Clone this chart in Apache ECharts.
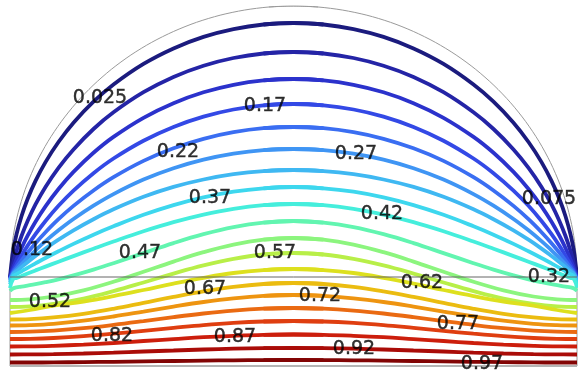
<!DOCTYPE html>
<html>
<head>
<meta charset="utf-8">
<script src="https://cdn.jsdelivr.net/npm/echarts@6/dist/echarts.min.js"></script>
<style>html,body{margin:0;padding:0;background:#fff;}#c{width:578px;height:376px;}</style>
</head>
<body>
<div id="c"></div>
<script>
// Domain units: x 0..567 (left wall to right wall), y 0..360 (rect bottom to arc top); base line at y=89.
// Each contour is stored as a half-line from just past the centre to the left wall;
// the right half is the same data drawn on an inverse x axis (the geometry is symmetric).
const xArc  = [313.5, 283.5, 253.5, 223.5, 193.5, 163.5, 133.5, 103.5, 83.5, 63.5, 48.5, 35.5, 25.5, 17.5, 11.5, 6.5, 3, 0];
const xBell = [313.5, 283.5, 253.5, 223.5, 193.5, 163.5, 133.5, 103.5, 73.5, 43.5, 20, 0];

const y025 = [341.5, 343, 341.5, 336.9, 329.1, 317.6, 302.1, 281.5, 264.3, 243.3, 224, 203.9, 185.1, 166.8, 149.8, 131.7, 114.5, 88.8];
const y075 = [312.5, 314, 312.5, 308, 300.3, 289.1, 273.8, 253.7, 237, 216.6, 198.2, 179.1, 161.6, 144.8, 130, 115.1, 102.4, 88.5];
const y125 = [285.6, 287, 285.6, 281.2, 273.7, 262.8, 248.2, 229.1, 213.2, 194.1, 177, 159.7, 144.3, 130.1, 118, 106.5, 97.5, 88];
const y175 = [260.7, 262, 260.7, 256.5, 249.4, 239.1, 225.3, 207.5, 192.8, 175.4, 160.2, 145, 131.8, 120.1, 110.4, 101.6, 95, 87.4];
const y225 = [237.8, 239, 237.8, 233.8, 227.2, 217.7, 205.1, 188.8, 175.5, 160.1, 146.8, 133.8, 122.8, 113.2, 105.4, 98.6, 93.5, 86.6];
const y275 = [215.9, 217, 215.9, 212.3, 206.3, 197.7, 186.4, 171.9, 160.3, 147, 135.7, 124.9, 115.7, 107.9, 101.7, 96.4, 92.4, 85.5];
const y325 = [194.9, 196, 194.9, 191.8, 186.5, 179.1, 169.2, 156.7, 146.8, 135.7, 126.3, 117.4, 110, 103.8, 98.9, 94.7, 91.7, 83.8];
const y375 = [177.7, 179, 177.7, 174.3, 168.6, 160.9, 151.2, 139.7, 131.3, 122.1, 114.7, 108, 102.6, 98.2, 94.7, 91.8, 89.6, 81.5];
const y425 = [160.8, 162, 160.8, 157.2, 151.4, 143.8, 134.7, 124.5, 117.3, 109.9, 104.3, 99.4, 95.6, 92.5, 90.1, 88.1, 86.8, 78];
const y475 = [143.4, 145, 143.4, 138.9, 131.8, 122.9, 112.9, 102.8, 96.4, 90.6, 86.7, 83.8, 81.8, 80.4, 79.4, 78.7, 77.5, 75];
const y525 = [126.3, 128, 126.3, 121.4, 113.8, 104.4, 94.2, 84.2, 75.7, 69.5, 66.7, 66];
const y575 = [111.5, 113, 111.5, 107.2, 100.6, 92.4, 83.5, 74.9, 67.4, 62.1, 59.6, 59];
const y625 = [95.9, 97, 95.9, 93, 88.2, 82.4, 76, 69.9, 64.5, 60.4, 56, 53];
const y675 = [82, 83, 82, 79.1, 74.6, 69.1, 63.1, 57.2, 52.2, 48.6, 46.9, 46.5];
const y725 = [70.2, 71, 70.2, 67.7, 64, 59.4, 54.4, 49.5, 45.3, 42.2, 40.9, 40.5];
const y775 = [57.3, 58, 57.3, 55.4, 52.5, 48.9, 44.9, 41.1, 37.8, 35.4, 34.3, 34];
const y825 = [44.5, 45, 44.5, 43.1, 40.9, 38.1, 35.2, 32.3, 29.8, 28, 27.2, 27];
const y875 = [31.2, 31.5, 31.2, 30.2, 28.8, 26.9, 25, 23, 21.4, 20.2, 19.6, 19.5];
const y925 = [17.8, 18, 17.8, 17.3, 16.5, 15.5, 14.5, 13.4, 12.5, 11.9, 11.6, 11.5];
const y975 = [5.9, 6, 5.9, 5.7, 5.4, 5, 4.6, 4.2, 3.9, 3.6, 3.5, 3.5];

const lineYs = [y025, y075, y125, y175, y225, y275, y325, y375, y425, y475,
                y525, y575, y625, y675, y725, y775, y825, y875, y925, y975];
const lineXs = [xArc, xArc, xArc, xArc, xArc, xArc, xArc, xArc, xArc, xArc,
                xBell, xBell, xBell, xBell, xBell, xBell, xBell, xBell, xBell, xBell];
const lineColors = ['#1b1b7e', '#2424a6', '#2b32cc', '#3349e6', '#3a6ef2', '#3f95f4', '#3fb8f2', '#3dd7ee',
                    '#45eedc', '#62f5b0', '#8cf57e', '#b8ef48', '#dde01e', '#ebbc10', '#ee9410', '#ea6a12',
                    '#df3e10', '#cc1e0c', '#aa0c08', '#820404'];

// Contour labels: [x, y, text]
const contourLabels = [
  [90, 268, '0.025'], [255, 260, '0.17'], [168, 214, '0.22'], [346, 212, '0.27'],
  [200, 168, '0.37'], [372, 152, '0.42'], [539, 167, '0.075'], [22, 116, '0.12'],
  [130, 113, '0.47'], [265, 113, '0.57'], [539, 89, '0.32'], [40, 64, '0.52'],
  [195, 77, '0.67'], [310, 70, '0.72'], [412, 83, '0.62'], [448, 42, '0.77'],
  [102, 30, '0.82'], [225, 29, '0.87'], [344, 17, '0.92'], [472, 2, '0.97']
];

// Geometry outline: left half of the arc (mirrored like the contours), walls, base and bottom
const arcX = [0, 1.08, 4.31, 9.66, 17.10, 26.56, 37.98, 51.27, 66.33, 83.04, 101.27, 120.89, 141.75, 163.69, 186.54, 210.12, 234.27, 258.79, 283.5, 308.21];
const arcY = [89, 112.6, 136.1, 159.1, 181.7, 203.5, 224.5, 244.4, 263.2, 280.6, 296.6, 311.0, 323.7, 334.6, 343.7, 350.8, 355.9, 359.0, 360, 359.0];
const baseLine = [[0, 89], [567, 89]];
const bottomLine = [[0, 0], [567, 0]];
const wallLine = [[0, 0], [0, 89]];

const zip = (xs, ys) => xs.map((x, i) => [x, ys[i]]);

const series = [];
[0, 1].forEach(ax => {
  series.push({type: 'line', xAxisIndex: ax, data: zip(arcX, arcY), smooth: 0.3, showSymbol: false, silent: true,
    lineStyle: {color: '#9a9a9a', width: 1}, z: 1});
  series.push({type: 'line', xAxisIndex: ax, data: wallLine, showSymbol: false, silent: true,
    lineStyle: {color: '#9a9a9a', width: 1}, z: 1});
});
series.push({type: 'line', data: bottomLine, showSymbol: false, silent: true, lineStyle: {color: '#b4b4b4', width: 2}, z: 1});

lineYs.forEach((ys, i) => {
  const d = zip(lineXs[i], ys);
  [0, 1].forEach(ax => {
    series.push({type: 'line', xAxisIndex: ax, data: d, smooth: 0.4, showSymbol: false, silent: true,
      lineStyle: {color: lineColors[i], width: 3.8}, z: 2});
  });
});

series.push({type: 'line', data: baseLine, showSymbol: false, silent: true, lineStyle: {color: '#666', width: 1}, z: 3});

series.push({type: 'scatter', data: contourLabels, symbolSize: 1, silent: true,
  itemStyle: {color: 'rgba(0,0,0,0)'}, z: 4,
  label: {show: true, position: 'inside', formatter: p => p.data[2], color: '#000',
    textBorderColor: '#000', textBorderWidth: 0.4,
    fontFamily: 'DejaVu Sans', fontSize: 19}});

const chart = echarts.init(document.getElementById('c'), null, {renderer: 'canvas'});
chart.setOption({
  animation: false,
  backgroundColor: '#fff',
  grid: {left: 10, right: 1, top: 6, bottom: 10, containLabel: false},
  xAxis: [
    {type: 'value', min: 0, max: 567, show: false},
    {type: 'value', min: 0, max: 567, show: false, inverse: true}
  ],
  yAxis: {type: 'value', min: 0, max: 360, show: false},
  series: series
});
</script>
</body>
</html>
